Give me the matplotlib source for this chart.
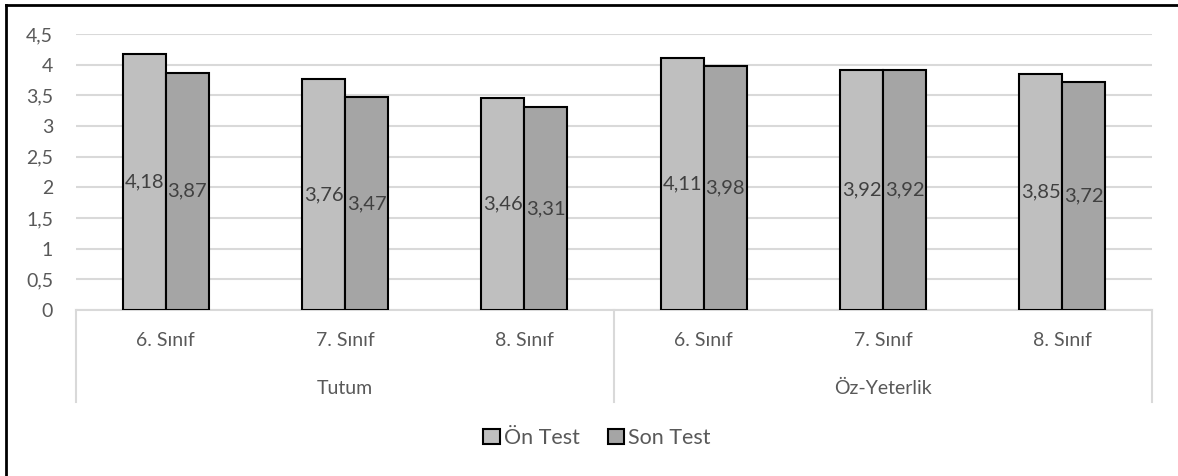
import numpy as np
import matplotlib.pyplot as plt
from matplotlib.lines import Line2D
from matplotlib.patches import Patch

plt.rcParams['font.family'] = ['Lato', 'DejaVu Sans']

groups = ["Tutum", "Öz-Yeterlik"]
classes = ["6. Sınıf", "7. Sınıf", "8. Sınıf"]
series = ["Ön Test", "Son Test"]
on_test = [4.18, 3.76, 3.46, 4.11, 3.92, 3.85]
son_test = [3.87, 3.47, 3.31, 3.98, 3.92, 3.72]
yticks = [0, 0.5, 1, 1.5, 2, 2.5, 3, 3.5, 4, 4.5]

colors = ["#bfbfbf", "#a5a5a5"]
text_color = "#595959"
grid_color = "#d9d9d9"

W, H = 1178, 476
fig = plt.figure(figsize=(W / 100, H / 100), dpi=100)
ax = fig.add_axes([76 / W, 1 - 310 / H, (1152 - 76) / W, (310 - 34) / H])

n = len(on_test)
x = np.arange(n)
bw = 0.24
b1 = ax.bar(x - bw / 2, on_test, bw, color=colors[0], edgecolor="black", linewidth=1.5, zorder=3)
b2 = ax.bar(x + bw / 2, son_test, bw, color=colors[1], edgecolor="black", linewidth=1.5, zorder=3)

def fmt(v):
    return f"{v:.2f}".replace(".", ",")

for bars, vals in ((b1, on_test), (b2, son_test)):
    for rect, v in zip(bars, vals):
        ax.text(rect.get_x() + rect.get_width() / 2, v / 2, fmt(v), ha="center", va="center",
                fontsize=14.5, color="#404040", zorder=4)

ax.set_xlim(-0.5, n - 0.5)
ax.set_ylim(0, 4.5)
ax.set_yticks(yticks)
ax.set_yticklabels([str(t).replace(".", ",").replace(",0", "") for t in yticks])
ax.tick_params(axis="y", length=0, pad=16.5, labelsize=14, labelcolor=text_color)
ax.tick_params(axis="x", length=0, labelbottom=False)
ax.grid(axis="y", color=grid_color, linewidth=1.5, zorder=0)
for s in ("left", "right", "top"):
    ax.spines[s].set_visible(False)
ax.spines["bottom"].set_color(grid_color)
ax.spines["bottom"].set_linewidth(1.5)

# two-level category axis
tr = ax.get_xaxis_transform()
for i, c in enumerate(classes * len(groups)):
    ax.text(i, -0.112, c, transform=tr, ha="center", va="center", fontsize=14,
            color=text_color, clip_on=False)
for g, name in enumerate(groups):
    ax.text(g * 3 + 1, -0.283, name, transform=tr, ha="center", va="center", fontsize=14,
            color=text_color, clip_on=False)
for xs in (-0.5, 2.5, 5.5):
    ax.add_line(Line2D([xs, xs], [0, -0.333], transform=tr, color=grid_color,
                       linewidth=1.5, clip_on=False))

handles = [Patch(facecolor=colors[i], edgecolor="black", linewidth=1.5, label=series[i]) for i in range(2)]
fig.legend(handles=handles, loc="center", bbox_to_anchor=(597 / W, 1 - 438 / H), ncol=2,
           frameon=False, fontsize=15.5, labelcolor=text_color, handlelength=0.75, handleheight=0.75,
           handletextpad=0.2, columnspacing=1.3)

# outer frame (top and left edges)
fig.add_artist(Line2D([6 / W, 1], [1 - 5 / H, 1 - 5 / H], transform=fig.transFigure, color="black", linewidth=2))
fig.add_artist(Line2D([6 / W, 6 / W], [0, 1 - 5 / H], transform=fig.transFigure, color="black", linewidth=2))

fig.savefig("out.png", dpi=100)
